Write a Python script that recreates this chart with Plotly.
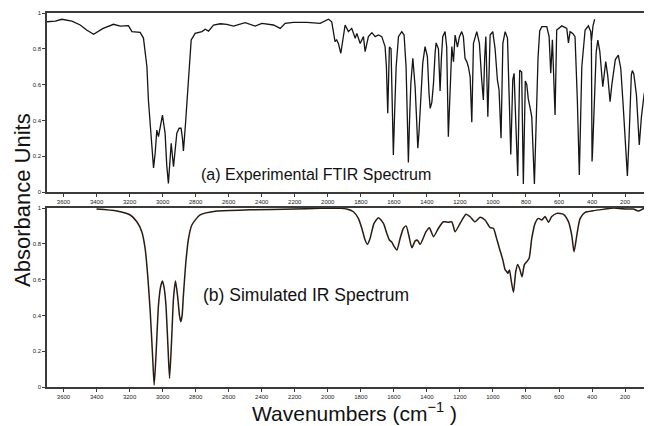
import plotly.graph_objects as go

# ---------------- data ----------------
# (a) Experimental FTIR spectrum, mid-IR segment (wavenumber cm-1, absorbance units)
exp_mid_wn = [3700, 3650, 3610, 3549, 3499, 3460, 3418, 3360, 3297, 3257, 3207, 3186, 3136, 3116,
              3095, 3086, 3071, 3055, 3045, 3035, 3025, 3012, 3001, 2990, 2985, 2975, 2965, 2955,
              2948, 2934, 2924, 2914, 2900, 2888, 2880, 2874, 2862, 2847, 2827, 2803, 2762, 2742,
              2722, 2692, 2650, 2611, 2571, 2500, 2440, 2399, 2329, 2288, 2258, 2208, 2127, 2046,
              1996, 1976, 1956, 1946, 1936, 1921, 1908, 1895, 1875, 1855, 1834, 1824, 1804, 1784,
              1774, 1754, 1733, 1713, 1693, 1673, 1653, 1645, 1637, 1627, 1617, 1610, 1603, 1595,
              1586, 1572, 1552, 1538, 1526, 1518, 1512, 1505, 1497, 1485, 1471, 1462, 1455, 1448,
              1441, 1425, 1411, 1397, 1387, 1380, 1370, 1360, 1350, 1344, 1330, 1320, 1312, 1304,
              1290, 1280, 1270, 1259, 1249, 1239, 1229, 1215, 1203, 1189, 1179, 1169, 1159, 1149,
              1138, 1128, 1118, 1098, 1082, 1068, 1058, 1050, 1043, 1031, 1017, 1001, 987, 973,
              963, 951, 940, 926, 912, 900, 892, 880, 872, 862, 850, 838, 826, 816, 804, 795, 786,
              775, 765, 749, 739, 727, 717, 704, 674, 660, 650, 640, 624, 614, 583, 553, 543, 533,
              517, 503, 489, 477, 462, 442, 422, 408, 404, 394, 384]
exp_mid_abs = [0.951, 0.955, 0.965, 0.955, 0.933, 0.905, 0.881, 0.914, 0.937, 0.927, 0.929, 0.896, 0.892, 0.86,
               0.70, 0.514, 0.33, 0.135, 0.218, 0.346, 0.309, 0.38, 0.43, 0.36, 0.33, 0.15, 0.048, 0.18,
               0.272, 0.141, 0.25, 0.328, 0.356, 0.356, 0.30, 0.23, 0.374, 0.607, 0.849, 0.886, 0.896, 0.909,
               0.899, 0.933, 0.94, 0.937, 0.927, 0.946, 0.927, 0.942, 0.933, 0.914, 0.942, 0.948, 0.948, 0.942,
               0.965, 0.951, 0.84, 0.85, 0.83, 0.775, 0.85, 0.933, 0.896, 0.914, 0.859, 0.886, 0.83, 0.868,
               0.784, 0.868, 0.89, 0.868, 0.877, 0.868, 0.812, 0.70, 0.44, 0.81, 0.80, 0.55, 0.207, 0.45,
               0.70, 0.868, 0.896, 0.877, 0.70, 0.40, 0.165, 0.40, 0.607, 0.747, 0.585, 0.40, 0.244, 0.33,
               0.458, 0.72, 0.812, 0.757, 0.55, 0.467, 0.50, 0.607, 0.78, 0.833, 0.80, 0.565, 0.75, 0.868,
               0.896, 0.81, 0.309, 0.644, 0.812, 0.728, 0.877, 0.81, 0.868, 0.896, 0.868, 0.747, 0.73, 0.70,
               0.644, 0.39, 0.83, 0.896, 0.83, 0.626, 0.514, 0.75, 0.868, 0.421, 0.877, 0.896, 0.80, 0.626,
               0.57, 0.30, 0.83, 0.896, 0.86, 0.477, 0.21, 0.626, 0.663, 0.40, 0.09, 0.68, 0.67, 0.045, 0.62, 0.60, 0.52,
               0.47, 0.42, 0.045, 0.42, 0.75, 0.90, 0.924, 0.924, 0.868, 0.663, 0.85, 0.43, 0.905, 0.928, 0.914, 0.833, 0.896,
               0.886, 0.868, 0.514, 0.095, 0.70, 0.905, 0.928, 0.896, 0.84, 0.93, 0.965]

# (a) Experimental FTIR spectrum, far-IR segment
exp_far_wn = [404, 402, 400, 397, 392, 385, 375, 365, 353, 335, 317, 305, 291, 280, 259, 241,
              226, 212, 198, 186, 176, 162, 156, 147, 131, 114, 101, 85, 71]
exp_far_abs = [0.84, 0.20, 0.17, 0.22, 0.35, 0.60, 0.78, 0.849, 0.786, 0.588, 0.728, 0.65, 0.504, 0.60, 0.74, 0.765,
               0.69, 0.49, 0.246, 0.09, 0.30, 0.655, 0.678, 0.66, 0.54, 0.263, 0.42, 0.544, 0.607]

# (b) Simulated IR spectrum
sim_wn = [3400, 3277, 3196, 3156, 3126, 3106, 3089, 3075, 3061, 3051, 3039, 3025, 3012, 3001, 2990,
          2980, 2968, 2958, 2946, 2934, 2922, 2908, 2898, 2890, 2882, 2874, 2859, 2843, 2823, 2773,
          2672, 2470, 2200, 2046, 1925, 1885, 1845, 1815, 1794, 1774, 1760, 1744, 1720, 1693, 1663,
          1643, 1627, 1613, 1598, 1582, 1562, 1542, 1526, 1510, 1491, 1471, 1457, 1441, 1405, 1385,
          1360, 1330, 1300, 1270, 1249, 1229, 1199, 1163, 1138, 1108, 1078, 1048, 1017, 997, 981,
          961, 940, 926, 916, 910, 900, 890, 876, 862, 850, 836, 824, 810, 795, 781, 765, 745, 725,
          704, 684, 664, 644, 613, 573, 543, 523, 509, 492, 472, 442, 392, 321, 271, 190, 150, 119, 89, 38]
sim_abs = [0.994, 0.983, 0.961, 0.923, 0.868, 0.775, 0.607, 0.42, 0.179, 0.011, 0.197, 0.458, 0.56, 0.592, 0.55,
           0.458, 0.235, 0.049, 0.253, 0.497, 0.592, 0.497, 0.40, 0.365, 0.40, 0.514, 0.70, 0.83, 0.905, 0.961,
           0.983, 0.99, 0.994, 0.998, 0.998, 0.994, 0.979, 0.942, 0.887, 0.821, 0.797, 0.83, 0.914, 0.946, 0.914,
           0.859, 0.821, 0.81, 0.784, 0.765, 0.83, 0.887, 0.90, 0.849, 0.778, 0.816, 0.82, 0.797, 0.868, 0.89,
           0.84, 0.887, 0.923, 0.92, 0.923, 0.868, 0.914, 0.965, 0.951, 0.923, 0.948, 0.933, 0.89, 0.887, 0.84,
           0.775, 0.709, 0.654, 0.644, 0.635, 0.654, 0.598, 0.529, 0.644, 0.685, 0.654, 0.616, 0.682, 0.70, 0.719,
           0.83, 0.914, 0.942, 0.933, 0.952, 0.92, 0.952, 0.97, 0.965, 0.924, 0.849, 0.756, 0.849, 0.942, 0.976,
           0.985, 0.994, 1.0, 0.994, 0.994, 0.983, 0.996, 1.0]

x_ticks = [3600, 3400, 3200, 3000, 2800, 2600, 2400, 2200, 2000, 1800, 1600, 1400, 1200, 1000, 800, 600, 400, 200]
y_ticks = [0, 0.2, 0.4, 0.6, 0.8, 1]

title_a = "(a) Experimental FTIR Spectrum"
title_b = "(b) Simulated IR Spectrum"
y_title = "Absorbance Units"
x_title = "Wavenumbers (cm<sup>−1</sup> )"

# ---------------- figure ----------------
FONT = "Liberation Sans, Arial, sans-serif"
fig = go.Figure()
line_a = dict(color="#151515", width=1.3)
fig.add_trace(go.Scatter(x=exp_mid_wn, y=exp_mid_abs, mode="lines", line=line_a,
                         xaxis="x", yaxis="y", showlegend=False))
fig.add_trace(go.Scatter(x=exp_far_wn, y=exp_far_abs, mode="lines", line=line_a,
                         xaxis="x", yaxis="y", showlegend=False))
fig.add_trace(go.Scatter(x=sim_wn, y=sim_abs, mode="lines",
                         line=dict(color="#2b1a12", width=1.5, shape="spline", smoothing=0.6),
                         xaxis="x2", yaxis="y2", showlegend=False))

axis_common = dict(showgrid=False, zeroline=False, showline=True, linecolor="#3a3a3a",
                   linewidth=1.5, ticks="outside", ticklen=3, tickwidth=1, tickcolor="#3a3a3a",
                   tickfont=dict(size=6, color="#222222", family=FONT))
xcommon = dict(axis_common, range=[3700, 37], tickvals=x_ticks, mirror=True)
ycommon = dict(axis_common, range=[0, 1], tickvals=y_ticks, mirror=False)

# the page body has an 8px default margin, so the figure is sized to fit the 652x426 window
fig.update_layout(
    width=644, height=418,
    margin=dict(l=39, r=0, t=5, b=39),
    paper_bgcolor="white", plot_bgcolor="white",
    font=dict(family=FONT, color="#111111"),
    xaxis=dict(xcommon, domain=[0, 1], anchor="y"),
    yaxis=dict(ycommon, domain=[0.5214, 1.0], anchor="x"),
    xaxis2=dict(xcommon, domain=[0, 1], anchor="y2"),
    yaxis2=dict(ycommon, domain=[0.0, 0.4786], anchor="x2"),
    annotations=[
        dict(text=title_a, xref="paper", yref="paper", x=0.2512, y=0.5695,
             xanchor="left", yanchor="middle", showarrow=False, font=dict(size=16, color="#111111")),
        dict(text=title_b, xref="paper", yref="paper", x=0.2545, y=0.246,
             xanchor="left", yanchor="middle", showarrow=False, font=dict(size=17.5, color="#111111")),
        dict(text=y_title, xref="paper", yref="paper", x=-0.0413, y=0.5, textangle=-90,
             xanchor="center", yanchor="middle", showarrow=False, font=dict(size=22, color="#111111")),
        dict(text=x_title, xref="paper", yref="paper", x=0.509, y=-0.066,
             xanchor="center", yanchor="middle", showarrow=False, font=dict(size=21, color="#111111")),
    ],
)

fig.write_html("out.html")
